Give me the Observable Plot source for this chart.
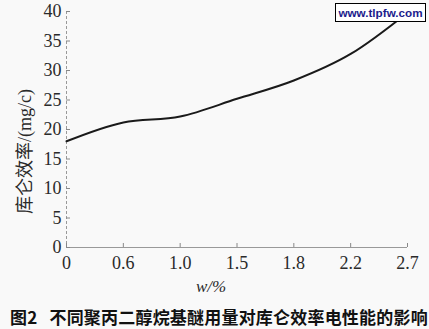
<!DOCTYPE html>
<html>
<head>
<meta charset="utf-8">
<script src="https://cdn.jsdelivr.net/npm/d3@7"></script>
<script src="https://cdn.jsdelivr.net/npm/@observablehq/plot@0.6"></script>
<style>
  html, body { margin: 0; padding: 0; background: #f9f9f9; }
  #wrap { position: relative; width: 429px; height: 329px; overflow: hidden; background: #f9f9f9; }
  #wm { position: absolute; left: 335px; top: 3px; width: 89px; height: 17px; border: 1px solid #000; background: #fff;
        font: bold 11.7px "Liberation Sans", Arial, sans-serif; color: #1c1c8c; text-align: center; line-height: 17px; }
  #cap { position: absolute; left: 10px; top: 308px; font: bold 17px "Noto Sans CJK SC", sans-serif; line-height: 17px;
         color: #111; white-space: nowrap; letter-spacing: 0.2px; }
  #cap span { margin-right: 12px; }
</style>
</head>
<body>
<div id="wrap">
  <div id="chart"></div>
  <div id="wm">www.tlpfw.com</div>
  <div id="cap"><span>图2</span>不同聚丙二醇烷基醚用量对库仑效率电性能的影响</div>
</div>
<script>
const xLabels = ["0", "0.6", "1.0", "1.5", "1.8", "2.2", "2.7"];
const efficiency = [18.0, 21.2, 22.2, 25.2, 28.3, 32.8, 39.8];
const yTicks = [0, 5, 10, 15, 20, 25, 30, 35, 40];
const yLabel = "库仑效率/(mg/c)";
const xLabel = "w/%";

const data = xLabels.map((l, i) => ({i, v: efficiency[i]}));
const serif = "'Liberation Serif', 'Times New Roman', serif";

const plot = Plot.plot({
  width: 429,
  height: 300,
  marginLeft: 66,
  marginRight: 22,
  marginTop: 11,
  marginBottom: 53,
  style: {background: "transparent", fontFamily: serif, fontSize: "18px", color: "#222"},
  x: {domain: [0, 6]},
  y: {domain: [0, 40]},
  marks: [
    Plot.ruleX([0], {stroke: "#999", strokeDasharray: "3,2"}),
    Plot.ruleY([0], {stroke: "#999"}),
    Plot.axisY({ticks: yTicks, tickSize: -4, fill: "none", stroke: "#888", label: null}),
    Plot.axisY({ticks: yTicks, tickSize: 0, tickPadding: 5, fill: "#2a2a2a", label: null, fontSize: 18}),
    Plot.axisX({ticks: d3.range(xLabels.length), tickSize: -4, fill: "none", stroke: "#888", label: null}),
    Plot.axisX({ticks: d3.range(xLabels.length), tickSize: 0, tickPadding: 9, tickFormat: i => xLabels[i], fill: "#2a2a2a", label: null, fontSize: 18, style: {letterSpacing: "1px"}}),
    Plot.line(data, {x: "i", y: "v", curve: "monotone-x", stroke: "#1a1a1a", strokeWidth: 2}),
    Plot.text([yLabel], {frameAnchor: "left", dx: -41, dy: 22, rotate: -90, fontSize: 18, fill: "#2a2a2a",
      fontFamily: "'Liberation Serif', 'Noto Sans CJK SC', serif", textAnchor: "middle"}),
    Plot.text([xLabel], {frameAnchor: "bottom", dx: -26, dy: 44, fontSize: 17, fill: "#2a2a2a", fontStyle: "italic", fontFamily: serif})
  ]
});
document.getElementById("chart").appendChild(plot);
</script>
</body>
</html>
